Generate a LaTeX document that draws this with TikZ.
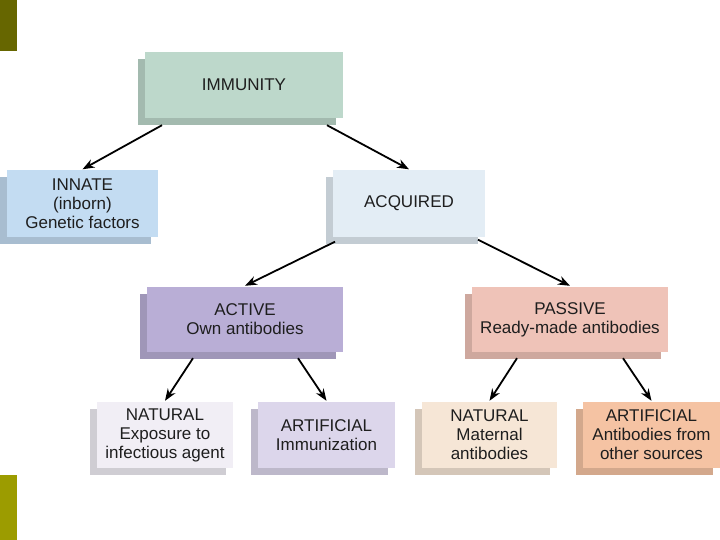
\documentclass[tikz,border=0pt]{standalone}
\usepackage{fontspec}
\setmainfont{Liberation Sans}
\usetikzlibrary{arrows.meta, positioning, shadows}
\definecolor{barDark}{HTML}{666600}
\definecolor{barLight}{HTML}{9C9C00}
\definecolor{textDark}{HTML}{1E1E1E}
\definecolor{immGreen}{HTML}{BDD8CB}
\definecolor{innateBlue}{HTML}{C3DCF2}
\definecolor{acqBlue}{HTML}{E3EDF5}
\definecolor{activeLav}{HTML}{B9AED6}
\definecolor{passivePink}{HTML}{EFC3B8}
\definecolor{natLav}{HTML}{F1EEF5}
\definecolor{artLav}{HTML}{DCD6EB}
\definecolor{natPeach}{HTML}{F6E6D6}
\definecolor{artPeach}{HTML}{F5C3A3}
\tikzset{
  tierbox/.style={fill=#1, drop shadow={shadow xshift=-7pt, shadow yshift=-7pt, fill=#1!86!black, opacity=1},
    align=center, font=\fontsize{17}{19}\selectfont, text=textDark, inner sep=0pt, minimum height=66pt},
  flowarr/.style={-{Stealth[length=12pt, width=9pt]}, line width=1.8pt, black},
}
\begin{document}
\begin{tikzpicture}[x=1pt, y=-1pt]
    \useasboundingbox (0,0) rectangle (720,540);
    % side bars
    \fill[barDark] (0,0) rectangle (17,51);
    \fill[barLight] (0,475) rectangle (17,540);
    % levels
    \node[tierbox=immGreen, minimum width=198pt] (imm) at (244,85) {IMMUNITY};
    \node[tierbox=innateBlue, minimum width=151pt] (innate) at (82.5,203.5) {INNATE\\(inborn)\\Genetic factors};
    \node[tierbox=acqBlue, minimum width=152pt] (acq) at (409,203.5) {ACQUIRED};
    \node[tierbox=activeLav, minimum width=196pt, minimum height=65pt] (act) at (245,319.5) {ACTIVE\\Own antibodies};
    \node[tierbox=passivePink, minimum width=196pt, minimum height=65pt] (pas) at (570,319.5) {PASSIVE\\Ready-made antibodies};
    \node[tierbox=natLav, minimum width=136pt] (natA) at (165,435) {NATURAL\\Exposure to\\infectious agent};
    \node[tierbox=artLav, minimum width=137pt] (artA) at (326.5,435) {ARTIFICIAL\\Immunization};
    \node[tierbox=natPeach, minimum width=135pt] (natP) at (489.5,435) {NATURAL\\Maternal\\antibodies};
    \node[tierbox=artPeach, minimum width=137pt] (artP) at (651.5,435) {ARTIFICIAL\\Antibodies from\\other sources};
    % arrows
    \draw[flowarr] ([xshift=-82pt, yshift=-7pt]imm.south) -- ([yshift=1pt]innate.north);
    \draw[flowarr] ([xshift=83pt, yshift=-7pt]imm.south) -- ([yshift=1pt]acq.north);
    \draw[flowarr] ([xshift=-74pt, yshift=-5pt]acq.south) -- ([yshift=1pt]act.north);
    \draw[flowarr] ([xshift=69pt, yshift=-3pt]acq.south) -- ([yshift=1pt]pas.north);
    \draw[flowarr] ([xshift=-52pt, yshift=-6pt]act.south) -- ([yshift=1pt]natA.north);
    \draw[flowarr] ([xshift=53pt, yshift=-6pt]act.south) -- ([yshift=1pt]artA.north);
    \draw[flowarr] ([xshift=-53pt, yshift=-6pt]pas.south) -- ([yshift=1pt]natP.north);
    \draw[flowarr] ([xshift=53pt, yshift=-6pt]pas.south) -- ([yshift=1pt]artP.north);
  \end{tikzpicture}
\end{document}
